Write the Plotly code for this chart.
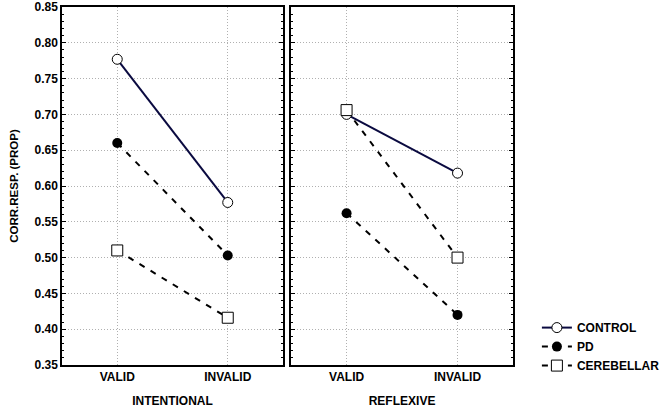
import plotly.graph_objects as go

conditions = ["VALID", "INVALID"]
groups = ["CONTROL", "PD", "CEREBELLAR"]
intentional = {
    "CONTROL": [0.777, 0.577],
    "PD": [0.660, 0.503],
    "CEREBELLAR": [0.510, 0.416],
}
reflexive = {
    "CONTROL": [0.700, 0.618],
    "PD": [0.562, 0.420],
    "CEREBELLAR": [0.706, 0.500],
}
y_ticks = [0.35, 0.40, 0.45, 0.50, 0.55, 0.60, 0.65, 0.70, 0.75, 0.80, 0.85]

FONT = "Liberation Sans, Arial, sans-serif"
FS = 12

styles = {
    "CONTROL": dict(line=dict(color="#0a0a40", width=2, dash="solid"),
                    marker=dict(symbol="circle", size=10, color="white", line=dict(width=1, color="black"))),
    "PD": dict(line=dict(color="black", width=2, dash="6px,7px"),
               marker=dict(symbol="circle", size=10, color="black", line=dict(width=0))),
    "CEREBELLAR": dict(line=dict(color="black", width=2, dash="6px,7px"),
                       marker=dict(symbol="square", size=11, color="white", line=dict(width=1, color="black"))),
}

fig = go.Figure()
xs = [0, 1]
for g in groups:
    st = styles[g]
    fig.add_trace(go.Scatter(x=xs, y=intentional[g], mode="lines+markers", name=f"<b>{g}</b>",
                             line=st["line"], marker=st["marker"], xaxis="x", yaxis="y",
                             showlegend=True))
for g in groups:
    st = styles[g]
    fig.add_trace(go.Scatter(x=xs, y=reflexive[g], mode="lines+markers", name=f"<b>{g}</b>",
                             line=st["line"], marker=st["marker"], xaxis="x2", yaxis="y2",
                             showlegend=False))

tickfont = dict(family=FONT, size=FS, color="black")

xaxis_common = dict(
    range=[-0.5, 1.5], tickmode="array", tickvals=xs,
    ticktext=[f"<b>{c}</b>" for c in conditions],
    showgrid=True, gridcolor="#b0b0b0", griddash="1px,2px", gridwidth=1,
    showline=True, linecolor="black", linewidth=1.5, mirror=True,
    ticks="", zeroline=False, tickfont=tickfont, automargin=False,
)
yaxis_common = dict(
    range=[0.35, 0.85], tickmode="array", tickvals=y_ticks,
    ticktext=[f"<b>{v:.2f}</b>" for v in y_ticks],
    showgrid=True, gridcolor="#b0b0b0", griddash="1px,2px", gridwidth=1,
    showline=True, linecolor="black", linewidth=1.5, mirror="allticks",
    ticks="inside", ticklen=4, tickcolor="black", tickwidth=1,
    minor=dict(dtick=0.01, tick0=0.35, ticks="inside", ticklen=2, tickcolor="black", showgrid=False),
    zeroline=False, tickfont=tickfont, automargin=False,
)

fig.update_layout(
    width=668, height=408,
    margin=dict(l=62, r=155, t=7, b=43, autoexpand=False),
    paper_bgcolor="white", plot_bgcolor="white",
    font=dict(family=FONT, size=FS, color="black"),
    xaxis=dict(domain=[0, 0.490], anchor="y",
               title=dict(text="<b>INTENTIONAL</b>", standoff=13, font=dict(family=FONT, size=FS)),
               **xaxis_common),
    xaxis2=dict(domain=[0.508, 1], anchor="y2",
                title=dict(text="<b>REFLEXIVE</b>", standoff=13, font=dict(family=FONT, size=FS)),
                **xaxis_common),
    yaxis=dict(domain=[0, 1], anchor="x",
               title=dict(text="<b>CORR.RESP. (PROP)</b>", standoff=13,
                          font=dict(family=FONT, size=11.5, color="black")),
               **yaxis_common),
    yaxis2=dict(domain=[0, 1], anchor="x2", showticklabels=False, **yaxis_common),
    legend=dict(x=1.053, y=0.145, xanchor="left", yanchor="top",
                font=dict(family=FONT, size=FS, color="black"),
                bgcolor="rgba(0,0,0,0)", tracegroupgap=0, itemwidth=30),
    showlegend=True,
)

fig.write_html("out.html")
